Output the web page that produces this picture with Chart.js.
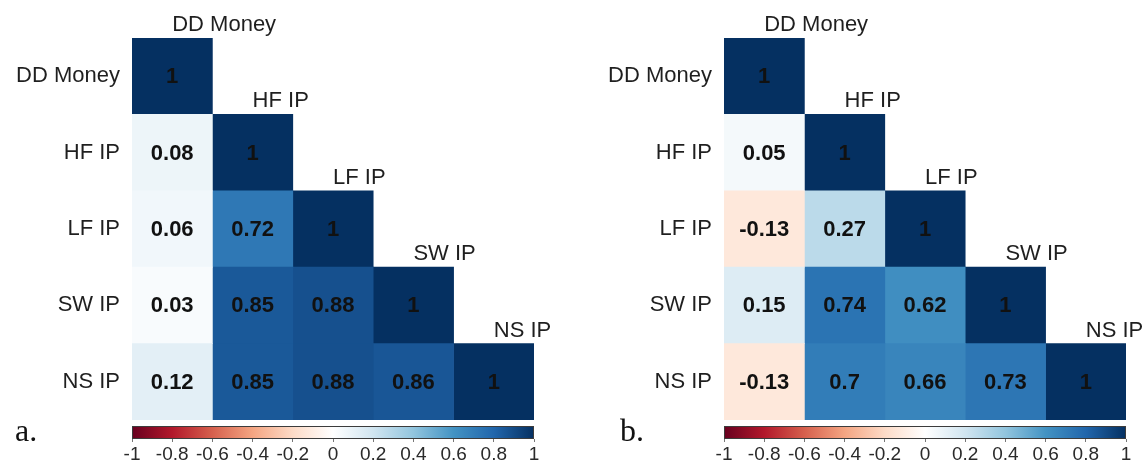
<!DOCTYPE html>
<html>
<head>
<meta charset="utf-8">
<script src="https://cdn.jsdelivr.net/npm/chart.js"></script>
<style>
  body { margin: 0; background: #fff; }
  #wrap { position: relative; width: 1147px; height: 466px; overflow: hidden; }
  #wrap canvas { position: absolute; }
  .panel-tag { position: absolute; top: 414px; font: 32px "Liberation Serif", serif; line-height: 32px; color: #111; }
</style>
</head>
<body>
<div id="wrap">
  <canvas id="heatA" width="560" height="466" style="left:0;top:0"></canvas>
  <canvas id="barA" width="560" height="46" style="left:0;top:420px"></canvas>
  <canvas id="heatB" width="587" height="466" style="left:560px;top:0"></canvas>
  <canvas id="barB" width="587" height="46" style="left:560px;top:420px"></canvas>
  <div class="panel-tag" style="left:15px">a.</div>
  <div class="panel-tag" style="left:620px">b.</div>
</div>
<script>
// variables (rows and columns are the same list)
const varNames = ['DD Money', 'HF IP', 'LF IP', 'SW IP', 'NS IP'];

// lower triangle of the correlation matrices, row by row
const corrA = [
    [1],
    [0.08, 1],
    [0.06, 0.72, 1],
    [0.03, 0.85, 0.88, 1],
    [0.12, 0.85, 0.88, 0.86, 1]
];
const corrB = [
    [1],
    [0.05, 1],
    [-0.13, 0.27, 1],
    [0.15, 0.74, 0.62, 1],
    [-0.13, 0.7, 0.66, 0.73, 1]
];

// colour bar ticks
const cbTicks = [-1, -0.8, -0.6, -0.4, -0.2, 0, 0.2, 0.4, 0.6, 0.8, 1];

// RdBu palette, -1 .. 1
const rdbu = ['#67001F', '#B2182B', '#D6604D', '#F4A582', '#FDDBC7', '#FFFFFF',
              '#D1E5F0', '#92C5DE', '#4393C3', '#2166AC', '#053061'];

function hexToRgb(h) {
    return [parseInt(h.slice(1, 3), 16), parseInt(h.slice(3, 5), 16), parseInt(h.slice(5, 7), 16)];
}

function corrColor(v) {
    const t = (v + 1) / 2 * (rdbu.length - 1);
    const i = Math.min(rdbu.length - 2, Math.floor(t));
    const f = t - i;
    const a = hexToRgb(rdbu[i]), b = hexToRgb(rdbu[i + 1]);
    const c = a.map((x, k) => Math.round(x + (b[k] - x) * f));
    return `rgb(${c[0]}, ${c[1]}, ${c[2]})`;
}

const textColor = '#1f1f1f';

// writes the value into every cell and the column names above the diagonal
const cellLabels = {
    id: 'cellLabels',
    afterDatasetsDraw(chart, args, opts) {
        const ctx = chart.ctx;
        const corr = opts.corr;
        const xs = chart.scales.x, ys = chart.scales.y;
        const rowH = chart.chartArea.height / varNames.length;
        ctx.save();
        ctx.fillStyle = '#111';
        ctx.font = 'bold 22px "Liberation Sans", Arial, sans-serif';
        ctx.textAlign = 'center';
        ctx.textBaseline = 'middle';
        chart.data.datasets.forEach((ds, j) => {
            chart.getDatasetMeta(j).data.forEach((bar, i) => {
                if (i < j) return;
                ctx.fillText(String(corr[i][j]), (bar.x + bar.base) / 2, bar.y + 1);
            });
        });
        ctx.fillStyle = textColor;
        ctx.font = '22px "Liberation Sans", Arial, sans-serif';
        ctx.textAlign = 'left';
        ctx.textBaseline = 'alphabetic';
        varNames.forEach((name, j) => {
            const x = xs.getPixelForValue(j + 0.5);
            const top = ys.getPixelForValue(j) - rowH / 2;
            ctx.fillText(name, x, top - 7);
        });
        ctx.restore();
    }
};

function createHeatmap(canvasId, corr, axisWidth, rightPad) {
    const datasets = varNames.map((_, j) => ({
        label: varNames[j],
        data: varNames.map((_, i) => i >= j ? [j, j + 1] : null),
        backgroundColor: varNames.map((_, i) => i >= j ? corrColor(corr[i][j]) : 'rgba(0,0,0,0)'),
        borderWidth: 0,
        grouped: false,
        barPercentage: 1,
        categoryPercentage: 1
    }));

    return new Chart(document.getElementById(canvasId), {
        type: 'bar',
        data: { labels: varNames, datasets: datasets },
        options: {
            indexAxis: 'y',
            responsive: false,
            animation: false,
            layout: { padding: { top: 38, right: rightPad, bottom: 46, left: 0 } },
            plugins: {
                legend: { display: false },
                tooltip: { enabled: false },
                cellLabels: { corr: corr }
            },
            scales: {
                x: { type: 'linear', min: 0, max: varNames.length, display: false },
                y: {
                    type: 'category',
                    grid: { display: false },
                    border: { display: false },
                    ticks: {
                        color: textColor,
                        padding: 4,
                        font: { family: '"Liberation Sans", Arial, sans-serif', size: 22 }
                    },
                    afterFit: (scale) => { scale.width = axisWidth; }
                }
            }
        },
        plugins: [cellLabels]
    });
}

// gradient strip drawn inside the colour bar's chart area
const gradientStrip = {
    id: 'gradientStrip',
    beforeDatasetsDraw(chart) {
        const { ctx, chartArea: a } = chart;
        const g = ctx.createLinearGradient(a.left, 0, a.right, 0);
        rdbu.forEach((c, k) => g.addColorStop(k / (rdbu.length - 1), c));
        ctx.save();
        ctx.fillStyle = g;
        ctx.fillRect(a.left, a.top, a.right - a.left, a.bottom - a.top);
        ctx.strokeStyle = '#3c3c3c';
        ctx.lineWidth = 1;
        ctx.strokeRect(a.left + 0.5, a.top + 0.5, a.right - a.left - 1, a.bottom - a.top - 1);
        ctx.restore();
    }
};

function createColorBar(canvasId, leftPad, rightPad) {
    return new Chart(document.getElementById(canvasId), {
        type: 'scatter',
        data: { datasets: [{ data: [] }] },
        options: {
            responsive: false,
            animation: false,
            layout: { padding: { top: 6, right: rightPad, bottom: 0, left: leftPad } },
            plugins: { legend: { display: false }, tooltip: { enabled: false } },
            scales: {
                x: {
                    type: 'linear',
                    min: -1,
                    max: 1,
                    afterBuildTicks: (scale) => { scale.ticks = cbTicks.map(v => ({ value: v })); },
                    grid: { drawOnChartArea: false, drawTicks: true, tickLength: 3, color: '#777' },
                    border: { display: false },
                    ticks: {
                        color: '#2a2a2a',
                        padding: 1,
                        autoSkip: false,
                        maxRotation: 0,
                        font: { family: '"Liberation Sans", Arial, sans-serif', size: 19 },
                        callback: (v) => String(Math.round(v * 10) / 10)
                    },
                    afterFit: (scale) => { scale.height = 27; }
                },
                y: { display: false, min: 0, max: 1 }
            }
        },
        plugins: [gradientStrip]
    });
}

document.addEventListener('DOMContentLoaded', () => {
    createHeatmap('heatA', corrA, 132, 26);
    createHeatmap('heatB', corrB, 164, 21);
    createColorBar('barA', 132, 26);
    createColorBar('barB', 164, 21);
});
</script>
</body>
</html>
